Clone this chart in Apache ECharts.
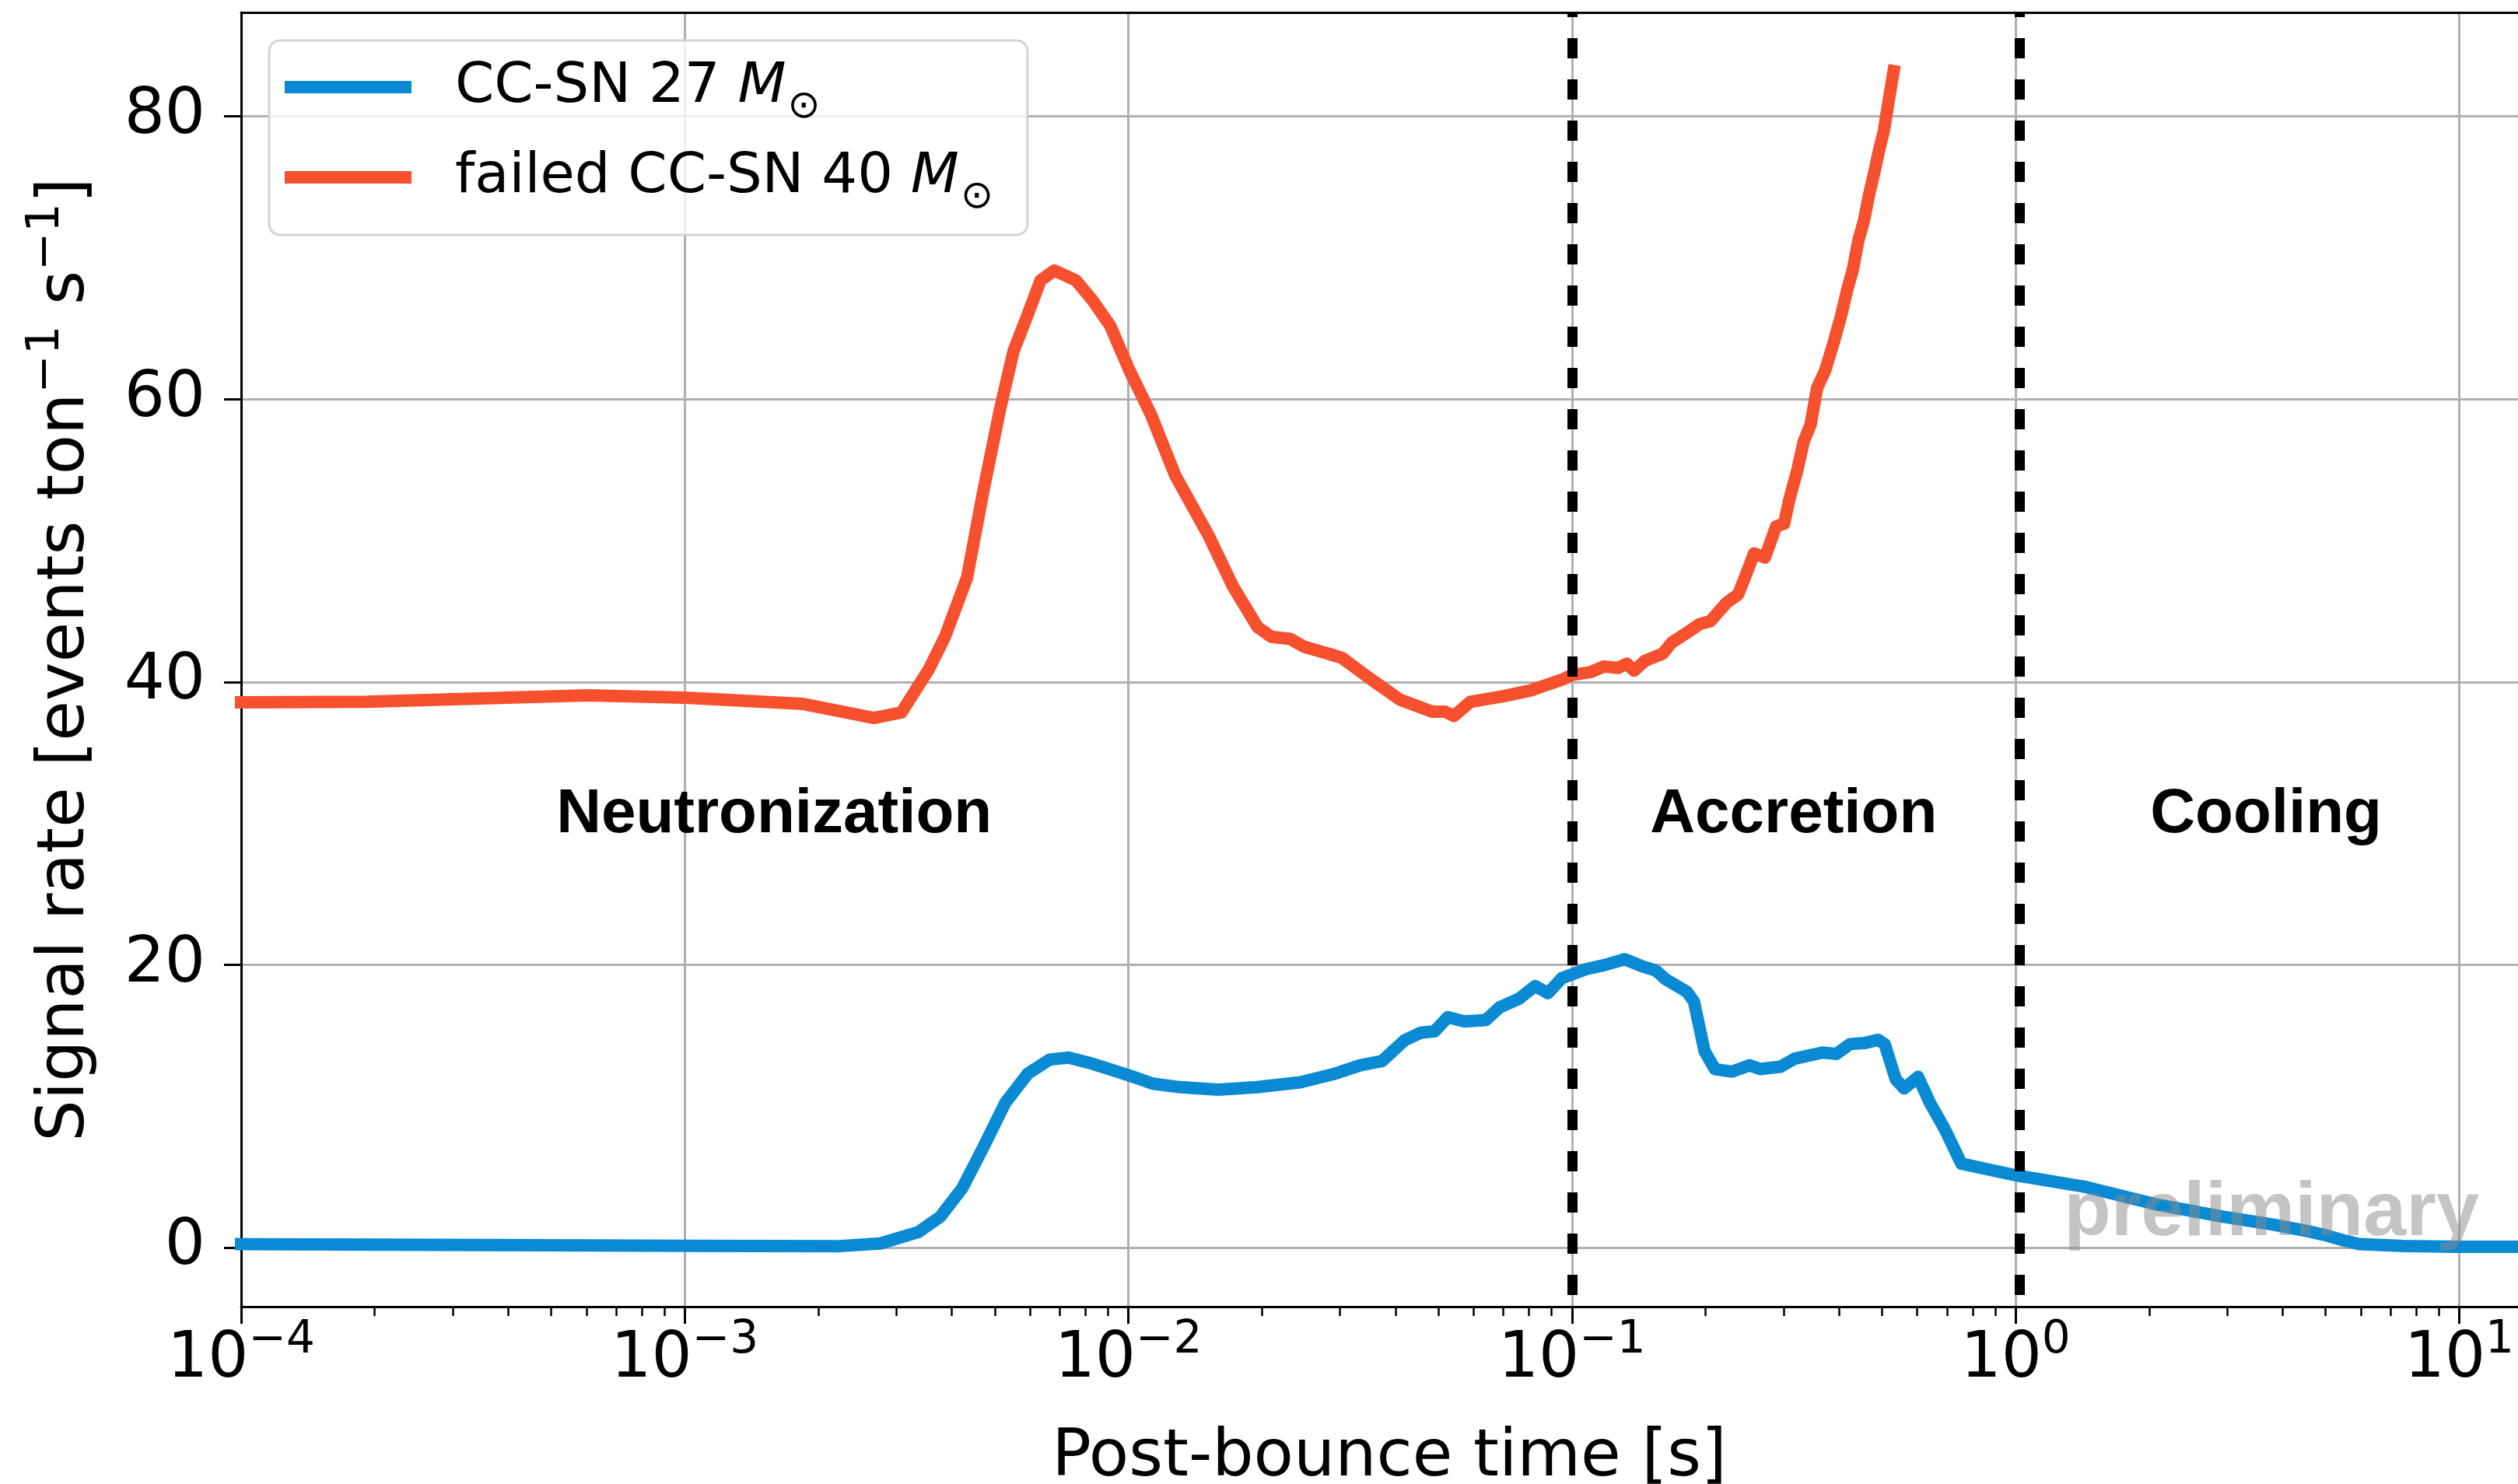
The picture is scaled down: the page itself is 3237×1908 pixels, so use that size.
<!DOCTYPE html>
<html>
<head>
<meta charset="utf-8">
<script src="https://cdn.jsdelivr.net/npm/echarts@6/dist/echarts.min.js"></script>
<style>
html, body { margin: 0; padding: 0; background: #ffffff; overflow: hidden; }
#chart { width: 3237px; height: 1908px; }
</style>
</head>
<body>
<div id="chart"></div>
<script>
// Exploding core-collapse supernova, 27 solar masses: post-bounce time [s] and signal rate
const ccsnTime = [
  1e-4, 2e-4, 6e-4, 1e-3, 0.0022, 0.00276, 0.00336, 0.00377, 0.00422, 0.00472,
  0.00528, 0.00593, 0.00664, 0.00733, 0.00832, 0.0100, 0.01135, 0.01309, 0.01596, 0.0195,
  0.02443, 0.02897, 0.03334, 0.03733, 0.04188, 0.0456, 0.049, 0.0525, 0.0572, 0.064,
  0.0687, 0.0759, 0.0826, 0.0883, 0.0948, 0.1076, 0.1178, 0.1315, 0.1439, 0.1545,
  0.163, 0.1816, 0.1884, 0.199, 0.21, 0.2296, 0.2512, 0.2655, 0.2951, 0.3177,
  0.3673, 0.3945, 0.4236, 0.456, 0.49, 0.507, 0.537, 0.561, 0.6026, 0.641,
  0.692, 0.755, 1.008, 1.442, 2.05, 2.92, 3.82, 4.55, 4.98, 5.44,
  5.94, 7.5, 9.93, 15
];
const ccsnRate = [
  0.25, 0.22, 0.16, 0.13, 0.1, 0.3, 1.1, 2.2, 4.2, 7.15,
  10.25, 12.3, 13.3, 13.45, 13.0, 12.2, 11.6, 11.35, 11.17, 11.35,
  11.7, 12.27, 12.9, 13.2, 14.65, 15.2, 15.3, 16.3, 16.0, 16.1,
  17.0, 17.6, 18.5, 18.0, 19.05, 19.7, 19.97, 20.4, 19.9, 19.6,
  18.96, 18.1, 17.4, 13.9, 12.63, 12.45, 12.9, 12.63, 12.8, 13.37,
  13.8, 13.7, 14.4, 14.47, 14.7, 14.4, 11.9, 11.26, 12.08, 10.25,
  8.4, 5.94, 5.1, 4.29, 3.1, 2.2, 1.63, 1.17, 0.9, 0.55,
  0.26, 0.12, 0.07, 0.07
];

// Failed core-collapse supernova, 40 solar masses (collapses to a black hole)
const failedTime = [
  1e-4, 1.92e-4, 6.04e-4, 1e-3, 0.00185, 0.00267, 0.00308, 0.00355, 0.00386, 0.00433,
  0.00471, 0.00513, 0.00551, 0.0059, 0.00634, 0.00681, 0.00762, 0.0083, 0.0091, 0.01005,
  0.01125, 0.01276, 0.01514, 0.01722, 0.01954, 0.021, 0.02317, 0.02489, 0.02825, 0.03034,
  0.03451, 0.04093, 0.04842, 0.0518, 0.0542, 0.059, 0.07, 0.0805, 0.0955, 0.1,
  0.1102, 0.118, 0.127, 0.133, 0.138, 0.146, 0.16, 0.168, 0.18, 0.194,
  0.205, 0.223, 0.237, 0.251, 0.2573, 0.2723, 0.2884, 0.3008, 0.309, 0.3228,
  0.333, 0.345, 0.357, 0.372, 0.389, 0.405, 0.417, 0.43, 0.442, 0.455,
  0.467, 0.48, 0.494, 0.505, 0.515, 0.531
];
const failedRate = [
  38.57, 38.6, 39.06, 38.9, 38.45, 37.46, 37.85, 40.9, 43.2, 47.4,
  53.5, 59.2, 63.4, 65.8, 68.4, 69.1, 68.4, 67.0, 65.2, 62.06,
  58.9, 54.6, 50.4, 46.75, 43.9, 43.2, 43.05, 42.5, 42.0, 41.7,
  40.4, 38.76, 37.9, 37.9, 37.6, 38.6, 39.0, 39.4, 40.2, 40.5,
  40.7, 41.1, 41.0, 41.3, 40.8, 41.5, 42.0, 42.8, 43.4, 44.1,
  44.3, 45.6, 46.2, 48.2, 49.1, 48.8, 51.0, 51.2, 52.9, 55.1,
  57.0, 58.2, 60.8, 62.0, 64.0, 66.0, 67.7, 69.2, 71.2, 72.6,
  74.4, 76.0, 77.8, 79.0, 80.7, 83.2
];

const seriesNames = ['CC-SN 27', 'failed CC-SN 40'];

// Phase boundaries and phase names
const phaseBoundaries = [0.102, 1.017];
const phaseNames = ['Neutronization', 'Accretion', 'Cooling'];
const phaseLabelTime = [0.00159, 0.316, 3.67];
const phaseLabelRate = 30.6;
const watermarkText = 'preliminary';
const watermarkAnchor = [1.285, 2.37];

// Axis ticks
const xMajorTicks = [1e-4, 1e-3, 1e-2, 1e-1, 1, 10];
const xTickExponents = ['\u22124', '\u22123', '\u22122', '\u22121', '0', '1'];
const yTicks = [0, 20, 40, 60, 80];

const xMinorTicks = [];
for (let e = -4; e <= 0; e++) {
  for (let m = 2; m <= 9; m++) xMinorTicks.push(m * Math.pow(10, e));
}

const X_MIN = 1e-4;
const X_MAX = 13.57;
const BLUE = '#0b8ad4';
const RED = '#f6502e';
const FONT = '"DejaVu Sans", sans-serif';
const BOLD_FONT = '"Liberation Sans", Arial, sans-serif';

const pairs = (xs, ys) => xs.map((x, i) => [x, ys[i]]);

const chart = echarts.init(document.getElementById('chart'), null, { renderer: 'canvas' });

const option = {
  backgroundColor: '#ffffff',
  animation: false,
  grid: {
    left: 310, top: 16, right: 0, bottom: 228, show: false,
    containLabel: false, outerBoundsMode: 'none'
  },
  legend: {
    data: seriesNames,
    orient: 'vertical',
    left: 346, top: 52,
    padding: [9, 44, 23, 20],
    itemGap: 14,
    itemWidth: 163, itemHeight: 16,
    icon: 'rect',
    backgroundColor: 'rgba(255,255,255,0.8)',
    borderColor: '#d3d3d3', borderWidth: 3, borderRadius: 14,
    selectedMode: false,
    textStyle: {
      fontFamily: FONT, fontSize: 72, color: '#000', lineHeight: 90,
      rich: {
        g: { width: 51, fontSize: 72, lineHeight: 90 },
        m: { fontFamily: FONT, fontSize: 72, fontStyle: 'italic', lineHeight: 90, color: '#000' },
        o: { fontFamily: FONT, fontSize: 50, lineHeight: 50, padding: [52, 0, 0, 2], color: '#000' }
      }
    },
    formatter: name => `{g| }${name} {m|M}{o|\u2299}`
  },
  xAxis: [
    {
      type: 'log', logBase: 10, min: X_MIN, max: X_MAX,
      name: 'Post-bounce time [s]', nameLocation: 'middle', nameGap: 145,
      nameTextStyle: { fontFamily: FONT, fontSize: 84, color: '#000', lineHeight: 100, padding: [0, 0, 0, 25] },
      axisLine: { show: true, onZero: false, lineStyle: { color: '#000', width: 3 } },
      axisTick: { show: true, length: 22, customValues: xMajorTicks, lineStyle: { color: '#000', width: 3 } },
      minorTick: { show: false },
      axisLabel: {
        show: true, margin: 24, customValues: xMajorTicks, color: '#000',
        fontFamily: FONT, fontSize: 82,
        formatter: v => {
          const k = xMajorTicks.findIndex(t => Math.abs(Math.log10(t) - Math.log10(v)) < 1e-6);
          return `{b|10}{e|${xTickExponents[k]}}`;
        },
        rich: {
          b: { fontFamily: FONT, fontSize: 82, lineHeight: 90, color: '#000' },
          e: { fontFamily: FONT, fontSize: 58, lineHeight: 58, padding: [0, 0, 50, 0], color: '#000' }
        }
      },
      splitLine: { show: true, lineStyle: { color: '#b0b0b0', width: 3 } }
    },
    {
      // minor ticks of the log axis
      type: 'log', logBase: 10, min: X_MIN, max: X_MAX, position: 'bottom', offset: 0,
      axisLine: { show: false, onZero: false },
      axisTick: { show: true, length: 12, customValues: xMinorTicks, lineStyle: { color: '#000', width: 2.5 } },
      axisLabel: { show: false },
      splitLine: { show: false }
    },
    {
      // top frame line
      type: 'log', logBase: 10, min: X_MIN, max: X_MAX, position: 'top', offset: 0,
      axisLine: { show: true, onZero: false, lineStyle: { color: '#000', width: 3 } },
      axisTick: { show: false },
      axisLabel: { show: false },
      splitLine: { show: false }
    }
  ],
  yAxis: {
    type: 'value', min: -4.17, max: 87.35,
    name: 'Signal rate [events ton{s|\u22121} s{s|\u22121}]',
    nameLocation: 'middle', nameGap: 175, nameRotate: 90,
    nameTextStyle: {
      fontFamily: FONT, fontSize: 84, color: '#000', lineHeight: 100,
      rich: {
        s: { fontFamily: FONT, fontSize: 59, lineHeight: 59, padding: [0, 0, 50, 0], color: '#000' }
      }
    },
    axisLine: { show: true, onZero: false, lineStyle: { color: '#000', width: 3 } },
    axisTick: { show: true, length: 22, customValues: yTicks, lineStyle: { color: '#000', width: 3 } },
    axisLabel: { show: true, margin: 46, customValues: yTicks, color: '#000', fontFamily: FONT, fontSize: 82 },
    splitLine: { show: true, lineStyle: { color: '#b0b0b0', width: 3 } }
  },
  series: [
    {
      name: seriesNames[0], type: 'line', xAxisIndex: 0, yAxisIndex: 0,
      data: pairs(ccsnTime, ccsnRate),
      showSymbol: false, symbol: 'none', z: 3,
      lineStyle: { color: BLUE, width: 16, join: 'round', cap: 'square' },
      itemStyle: { color: BLUE }
    },
    {
      name: seriesNames[1], type: 'line', xAxisIndex: 0, yAxisIndex: 0,
      data: pairs(failedTime, failedRate),
      showSymbol: false, symbol: 'none', z: 4,
      lineStyle: { color: RED, width: 16, join: 'round', cap: 'square' },
      itemStyle: { color: RED }
    },
    {
      name: 'phase boundaries', type: 'line', xAxisIndex: 0, yAxisIndex: 0,
      data: [], z: 5, silent: true,
      markLine: {
        silent: true, symbol: ['none', 'none'], animation: false,
        label: { show: false },
        lineStyle: { color: '#000', width: 13, type: [26, 27], dashOffset: 38, cap: 'butt' },
        emphasis: { disabled: true },
        data: phaseBoundaries.map(t => ({ xAxis: t }))
      }
    }
  ]
};

chart.setOption(option);

// Phase names and the watermark, anchored in data coordinates
const toPx = (t, v) => chart.convertToPixel({ xAxisIndex: 0, yAxisIndex: 0 }, [t, v]);
const graphics = phaseNames.map((txt, i) => {
  const p = toPx(phaseLabelTime[i], phaseLabelRate);
  return {
    type: 'text', x: p[0], y: p[1], z: 50, silent: true,
    style: {
      text: txt, fill: '#000', fontFamily: BOLD_FONT, fontWeight: 'bold', fontSize: 80,
      align: 'center', verticalAlign: 'middle'
    }
  };
});
const wp = toPx(watermarkAnchor[0], watermarkAnchor[1]);
graphics.push({
  type: 'text', x: wp[0], y: wp[1], z: 60, silent: true,
  style: {
    text: watermarkText, fill: 'rgba(137,137,137,0.5)', fontFamily: BOLD_FONT, fontWeight: 'bold',
    fontSize: 99, align: 'left', verticalAlign: 'middle'
  }
});
chart.setOption({ graphic: graphics });
</script>
</body>
</html>
